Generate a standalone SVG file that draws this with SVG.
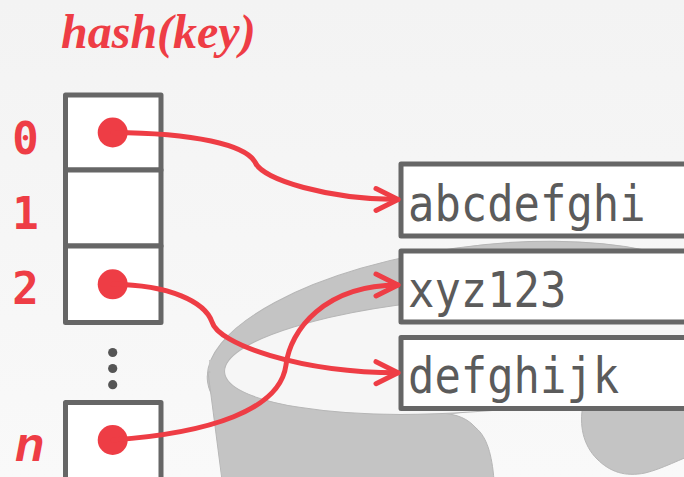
<svg xmlns="http://www.w3.org/2000/svg" width="684" height="477" viewBox="0 0 684 477">
  <style>
    .cell { fill: #ffffff; stroke: #666666; stroke-width: 5; stroke-linejoin: round; }
    .box { fill: #ffffff; stroke: #666666; stroke-width: 5; stroke-linejoin: round; }
    .val { font-family: "DejaVu Sans Mono", "Liberation Mono", monospace; font-size: 49px; fill: #5b5b5b; }
    .idx { font-family: "DejaVu Sans Mono", "Liberation Mono", monospace; font-size: 44px; font-weight: bold; fill: #ee3d45; text-anchor: middle; }
    .ptr { fill: #ee3d45; }
    .edge { fill: none; stroke: #ee3d45; stroke-width: 5; stroke-linecap: round; }
    .wm { fill: #c4c4c4; stroke: #b6b6b6; stroke-width: 1; }
  </style>
  <defs>
    <linearGradient id="bg" x1="0" y1="0" x2="0" y2="1">
      <stop offset="0" stop-color="#f3f3f3"/>
      <stop offset="1" stop-color="#f9f9f9"/>
    </linearGradient>
    <clipPath id="rimclip">
      <rect x="0" y="0" width="684" height="411"/>
    </clipPath>
    <marker id="arr" markerUnits="userSpaceOnUse" orient="auto" markerWidth="40" markerHeight="40" viewBox="-30 -20 40 40" refX="0" refY="0" overflow="visible">
      <path d="M-22,-11 L0,0 L-22,11" fill="none" stroke="#ee3d45" stroke-width="5" stroke-linecap="round" stroke-linejoin="round"/>
    </marker>
  </defs>

  <rect x="0" y="0" width="684" height="477" fill="url(#bg)"/>

  <!-- watermark -->
  <g id="watermark">
    <ellipse class="wm" cx="470" cy="345" rx="265" ry="98" transform="rotate(-8 470 345)" clip-path="url(#rimclip)"/>
    <path class="wm" d="M208,372 L222,480 L494,480 C492,455 487,437 476,428 C468,419 458,414 440,413 L440,372 Z"/>
    <path fill="#c4c4c4" stroke="none" d="M209,360 L222,478 L440,478 L440,360 Z"/>
    <ellipse cx="470" cy="355" rx="246" ry="57" transform="rotate(-4 470 355)" fill="#f6f6f6" stroke="#b6b6b6" stroke-width="1"/>
    <path class="wm" d="M583,405 C579,425 583,445 597,459 C610,472 625,477 645,473 C662,469 680,459 700,452 L700,405 Z"/>
  </g>

  <!-- title -->
  <text x="61" y="48" font-family="'Liberation Serif', serif" font-weight="bold" font-style="italic" font-size="48" fill="#ee3d45">hash(key)</text>

  <!-- index labels -->
  <text class="idx" x="25.5" y="153.5">0</text>
  <text class="idx" x="25.5" y="228.5">1</text>
  <text class="idx" x="25.5" y="304">2</text>
  <text x="15" y="460.5" font-family="'Liberation Sans', sans-serif" font-weight="bold" font-style="italic" font-size="48" fill="#ee3d45">n</text>

  <!-- hash table slots -->
  <g id="slot0">
    <rect class="cell" x="65.5" y="95" width="95.5" height="75"/>
    <circle class="ptr" cx="112.7" cy="132.5" r="15"/>
  </g>
  <g id="slot1">
    <rect class="cell" x="65.5" y="170" width="95.5" height="76"/>
  </g>
  <g id="slot2">
    <rect class="cell" x="65.5" y="246" width="95.5" height="76.5"/>
    <circle class="ptr" cx="112.7" cy="284.3" r="15"/>
  </g>
  <g id="ellipsis" fill="#555555">
    <circle cx="112.7" cy="352.5" r="4.6"/>
    <circle cx="112.7" cy="368.5" r="4.6"/>
    <circle cx="112.7" cy="384.7" r="4.6"/>
  </g>
  <g id="slotn">
    <rect class="cell" x="65.5" y="402.5" width="95.5" height="100"/>
    <circle class="ptr" cx="112.7" cy="440" r="15"/>
  </g>

  <!-- value boxes -->
  <g id="val-abcdefghi">
    <rect class="box" x="401" y="164" width="320" height="72"/>
    <text class="val" x="408" y="220.7" textLength="237.6" lengthAdjust="spacingAndGlyphs">abcdefghi</text>
  </g>
  <g id="val-xyz123">
    <rect class="box" x="401" y="251" width="320" height="71"/>
    <text class="val" x="408" y="306.7" textLength="158.4" lengthAdjust="spacingAndGlyphs">xyz123</text>
  </g>
  <g id="val-defghijk">
    <rect class="box" x="401" y="337.5" width="320" height="71"/>
    <text class="val" x="408" y="393.3" textLength="211.2" lengthAdjust="spacingAndGlyphs">defghijk</text>
  </g>

  <!-- connectors -->
  <g id="connectors">
    <path class="edge" marker-end="url(#arr)" d="M113,132.5 C195,133 245,145 255,162 C262,180 330,199.5 398,199.5"/>
    <path class="edge" marker-end="url(#arr)" d="M113,284.3 C170,285 205,302 212,322 C218,344 300,372.7 398,372.7"/>
    <path class="edge" marker-end="url(#arr)" d="M113,440 C210,433 280,410 286,365 C290,330 325,285 398,285"/>
  </g>
</svg>
